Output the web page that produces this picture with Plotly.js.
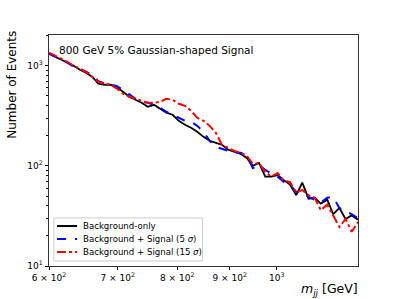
<!DOCTYPE html>
<html><head><meta charset="utf-8">
<script src="https://cdn.plot.ly/plotly-3.0.1.min.js"></script>
<style>html,body{margin:0;padding:0;background:#fff}</style>
</head><body><div id="chart" style="width:399px;height:299px"></div>
<script>
// m_jj bin centres (GeV)
var mjj = [600,608.4,616.8,625.4,634.1,643.0,651.9,661.0,670.2,679.5,689.2,698.8,708.5,718.4,728.4,738.6,748.9,759.3,769.9,780.6,791.7,802.7,813.9,825.2,836.7,848.5,860.3,872.3,884.4,896.8,909.4,922.1,934.9,947.9,961.1,974.6,988.2,1002,1016,1030,1044.7,1059,1074,1089,1104,1120,1135,1151,1167,1183,1200];
var bkgOnly = [1318,1230,1148,1072,1000,912,851,776,661,646,646,603,550,490,457,427,389,407,372,339,324,282,257,240,219,195,178,170,162,145,138,132,120,100,107,78,78,81,72,65,51,68,47,48,42,46,33,38,29.5,32,29];
var bkgSig5 = [1318,1230,1148,1072,977,933,871,813,700,665,650,625,575,513,468,437,427,407,380,347,324,302,282,275,251,219,178,155,148,141,135,135,126,95,102,91,85,78,69,65,55,55,49,46,43,48,49,38,35,33,30];
var bkgSig15 = [1349,1259,1175,1096,1000,933,871,776,692,661,646,589,525,490,468,447,427,427,437,468,457,417,398,355,302,282,251,214,162,151,141,135,126,105,107,87,78,85,71,69,54,57.5,51,48,36,41,32,24.5,29.5,22,27.5];
var seriesNames = ['Background-only', 'Background + Signal (5 <i>σ</i>)', 'Background + Signal (15 <i>σ</i>)'];
var seriesColors = ['#000000', '#0000ff', '#ff0000'];
var seriesDash = ['solid', 'dash', 'dashdot'];
var xTickVals = [600,700,800,900,1000];
var xTickText = ['6 × 10<sup>2</sup>','7 × 10<sup>2</sup>','8 × 10<sup>2</sup>','9 × 10<sup>2</sup>','10<sup>3</sup>'];
var yTickVals = [10,100,1000];
var yTickText = ['10<sup>1</sup>','10<sup>2</sup>','10<sup>3</sup>'];
var yMinor = [20,30,40,50,60,70,80,90,200,300,400,500,600,700,800,900,2000];

var ys = [bkgOnly, bkgSig5, bkgSig15];
var traces = ys.map(function (y, i) {
  return {x: mjj, y: y, name: seriesNames[i], mode: 'lines', showlegend: false,
          line: {color: seriesColors[i], width: i === 0 ? 1.8 : 2, dash: seriesDash[i]}};
});

// compact legend drawn with shapes + annotations (paper coordinates)
var legRowsY = [0.173, 0.117, 0.061];
var shapes = [{type: 'rect', xref: 'paper', yref: 'paper', x0: 0.016, x1: 0.497, y0: 0.022, y1: 0.208,
  line: {color: '#cccccc', width: 1}, fillcolor: 'rgba(255,255,255,0.8)', layer: 'above'}];
var annotations = [
  {xref: 'paper', yref: 'paper', x: 0.025, y: 0.97, xanchor: 'left', yanchor: 'top', showarrow: false,
   text: '800 GeV 5% Gaussian-shaped Signal', font: {size: 10.5}},
  {xref: 'paper', yref: 'paper', x: 1.005, y: -0.055, xanchor: 'right', yanchor: 'top', showarrow: false,
   text: '<i>m</i><sub><i>jj</i></sub> [GeV]', font: {size: 12.5}},
  {xref: 'paper', yref: 'paper', x: -0.118, y: 1.025, xanchor: 'center', yanchor: 'top', showarrow: false,
   textangle: -90, text: 'Number of Events', font: {size: 12}}
];
legRowsY.forEach(function (yy, i) {
  shapes.push({type: 'line', xref: 'paper', yref: 'paper', x0: 0.026, x1: 0.091, y0: yy, y1: yy,
    line: {color: seriesColors[i], width: 2, dash: seriesDash[i]}, layer: 'above'});
  annotations.push({xref: 'paper', yref: 'paper', x: 0.104, y: yy, xanchor: 'left', yanchor: 'middle',
    showarrow: false, text: seriesNames[i], font: {size: 8.6}});
});

var layout = {
  width: 399, height: 299,
  margin: {l: 49, r: 41, t: 35, b: 33, pad: 0},
  paper_bgcolor: '#fff', plot_bgcolor: '#fff',
  font: {family: 'DejaVu Sans', size: 10, color: '#000'},
  showlegend: false,
  xaxis: {type: 'log', range: [Math.log10(600), Math.log10(1200)], tickmode: 'array', tickvals: xTickVals, ticktext: xTickText,
    ticks: 'outside', ticklen: 3, tickcolor: '#000', showgrid: false, zeroline: false, showline: true, mirror: true, linecolor: '#333', linewidth: 1,
    tickfont: {size: 9}},
  yaxis: {type: 'log', range: [1, 3.307], tickmode: 'array', tickvals: yTickVals, ticktext: yTickText,
    ticks: 'outside', ticklen: 3.5, tickcolor: '#000', showgrid: false, zeroline: false, showline: true, mirror: true, linecolor: '#333', linewidth: 1,
    tickfont: {size: 9},
    minor: {tickmode: 'array', tickvals: yMinor, ticks: 'outside', ticklen: 2, tickcolor: '#000', showgrid: false}},
  shapes: shapes,
  annotations: annotations
};
Plotly.newPlot('chart', traces, layout, {displayModeBar: false, staticPlot: true});
</script></body></html>
